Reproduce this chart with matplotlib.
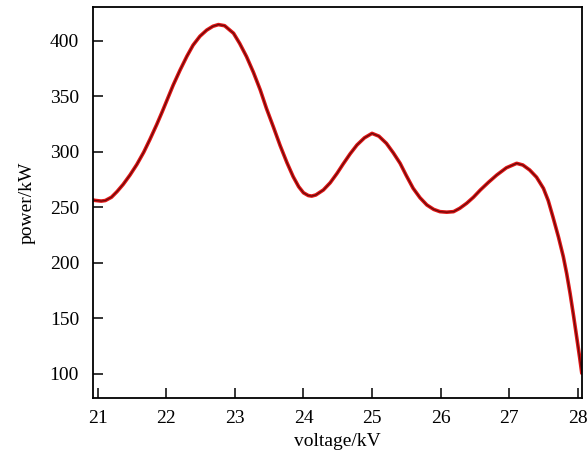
import matplotlib
matplotlib.use('Agg')
import matplotlib.pyplot as plt

# curve points (voltage kV, power kW)
voltage = [20.93, 20.96, 21.05, 21.11, 21.20, 21.28, 21.37, 21.47, 21.57, 21.67,
           21.76, 21.86, 21.94, 22.01, 22.10, 22.20, 22.30, 22.39, 22.49, 22.59,
           22.68, 22.76, 22.85, 22.98, 23.07, 23.17, 23.27, 23.37, 23.46, 23.56,
           23.66, 23.76, 23.85, 23.93, 24.00, 24.07, 24.12, 24.18, 24.29, 24.39,
           24.49, 24.58, 24.68, 24.78, 24.89, 25.00, 25.10, 25.21, 25.31, 25.41,
           25.50, 25.60, 25.70, 25.80, 25.90, 25.99, 26.09, 26.19, 26.28, 26.38,
           26.48, 26.58, 26.70, 26.82, 26.96, 27.11, 27.20, 27.30, 27.40, 27.50,
           27.57, 27.64, 27.72, 27.79, 27.84, 27.89, 27.94, 27.99, 28.03, 28.06]
power = [256.5, 256.1, 255.5, 256.0, 259.0, 264.0, 270.5, 279.0, 288.5, 299.5,
         311.0, 324.5, 336.0, 346.5, 360.0, 373.5, 386.0, 396.0, 404.0, 409.6,
         413.0, 414.5, 413.5, 406.7, 397.5, 385.6, 371.5, 355.6, 339.0, 322.5,
         305.5, 290.0, 277.5, 268.5, 263.0, 260.5, 260.0, 261.0, 265.5, 272.0,
         280.5, 289.0, 298.0, 306.0, 312.5, 316.5, 314.0, 307.5, 299.0, 289.5,
         278.5, 267.0, 258.5, 252.0, 248.0, 246.0, 245.5, 246.0, 249.0, 253.5,
         259.0, 265.5, 272.5, 279.0, 285.5, 289.5, 288.0, 283.5, 277.0, 267.0,
         256.0, 241.0, 223.0, 205.5, 190.0, 172.0, 152.0, 131.0, 114.0, 100.4]

x_ticks = [21, 22, 23, 24, 25, 26, 27, 28]
y_ticks = [100, 150, 200, 250, 300, 350, 400]

plt.rcParams['font.family'] = ['Liberation Serif', 'DejaVu Serif']

fig = plt.figure(figsize=(5.87, 4.63), dpi=100)
ax = fig.add_axes([0.1584, 0.1404, 0.8331, 0.8446])

ax.plot(voltage, power, color='#e01515', linewidth=2.6,
        solid_capstyle='round', solid_joinstyle='round')
ax.plot(voltage, power, color='#4a0808', linewidth=0.9, alpha=0.8,
        solid_joinstyle='round')

ax.set_xlim(20.93, 28.063)
ax.set_ylim(78.1, 430.4)
ax.set_xticks(x_ticks)
ax.set_yticks(y_ticks)
ax.tick_params(direction='in', length=7, width=1.1, labelsize=14, top=False, right=False)
ax.tick_params(axis='x', pad=9)
ax.tick_params(axis='y', pad=10)
for sp in ax.spines.values():
    sp.set_linewidth(1.3)

ax.set_xlabel('voltage/kV', fontsize=14, labelpad=4)
ax.set_ylabel('power/kW', fontsize=14, labelpad=10)

plt.savefig('out.png', dpi=100)
